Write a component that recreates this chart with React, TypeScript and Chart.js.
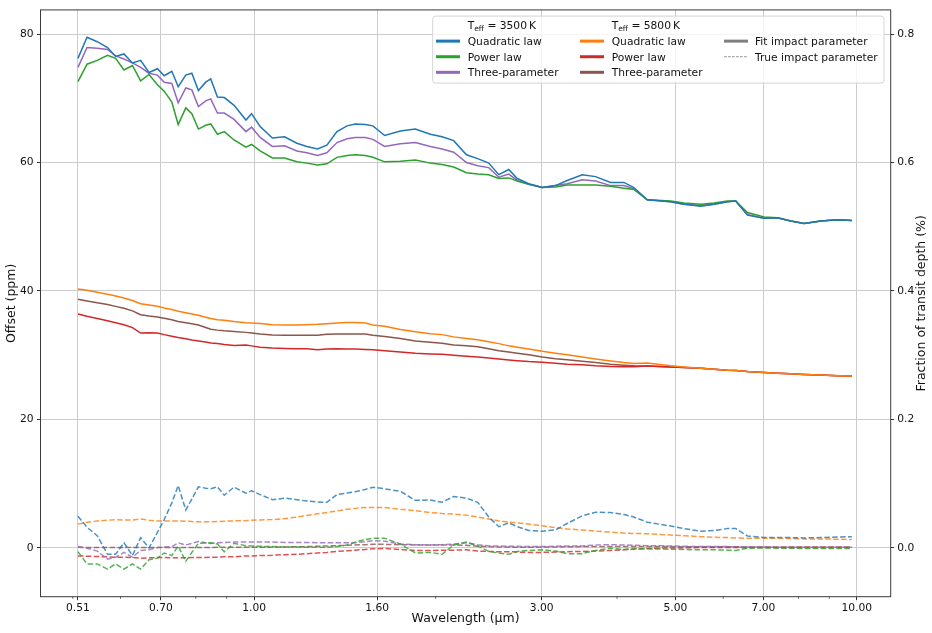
import { useEffect, useRef } from "react"
import { Chart, registerables } from "chart.js"

Chart.register(...registerables)

// wavelength grid in micron
const wavelength = [
  0.510, 0.528, 0.549, 0.571, 0.589, 0.608, 0.628, 0.648, 0.669, 0.691,
  0.709, 0.730, 0.748, 0.770, 0.788, 0.808, 0.831, 0.847, 0.869, 0.892,
  0.926, 0.969, 0.990, 1.023, 1.072, 1.123, 1.177, 1.223, 1.274, 1.320,
  1.372, 1.426, 1.471, 1.529, 1.574, 1.646, 1.748, 1.851, 1.960, 2.050,
  2.143, 2.250, 2.349, 2.450, 2.546, 2.645, 2.732, 2.855, 3.006, 3.162,
  3.306, 3.502, 3.685, 3.903, 4.106, 4.266, 4.490, 4.909, 5.166, 5.507,
  5.794, 6.098, 6.295, 6.583, 7.015, 7.383, 7.770, 8.175, 8.713, 9.288,
  9.810,
]

// Teff = 3500 K, fitted impact parameter (ppm)
const quad3500Fit = [
  76.2, 79.5, 78.8, 77.9, 76.5, 76.9, 75.5, 75.9, 74.0, 74.6,
  73.5, 74.2, 71.8, 73.6, 73.9, 71.2, 72.5, 73.0, 70.2, 70.1,
  68.9, 66.6, 67.6, 65.6, 63.8, 64.0, 63.0, 62.5, 62.1, 62.7,
  64.8, 65.7, 66.0, 65.9, 65.7, 64.2, 64.9, 65.2, 64.4, 64.0,
  63.4, 61.2, 60.6, 59.9, 58.1, 58.9, 57.5, 56.7, 56.1, 56.4,
  57.2, 58.1, 57.8, 56.9, 56.9, 56.1, 54.2, 53.9, 53.5, 53.2,
  53.5, 53.9, 54.0, 51.8, 51.3, 51.4, 50.9, 50.5, 50.9, 51.1,
  50.95,
]
const power3500Fit = [
  72.6, 75.3, 75.9, 76.7, 76.2, 74.4, 75.1, 72.7, 73.7, 72.1,
  71.1, 69.4, 65.9, 68.5, 67.6, 65.2, 65.8, 66.0, 64.4, 64.8,
  63.5, 62.4, 62.8, 61.8, 60.7, 60.7, 60.1, 59.9, 59.6, 59.8,
  60.8, 61.1, 61.2, 61.1, 60.8, 60.1, 60.2, 60.4, 59.9, 59.7,
  59.3, 58.4, 58.2, 58.1, 57.5, 57.6, 57.1, 56.6, 56.1, 56.2,
  56.5, 56.5, 56.5, 56.3, 56.0, 55.8, 54.2, 54.0, 53.7, 53.5,
  53.7, 54.0, 54.0, 52.2, 51.5, 51.4, 50.9, 50.5, 50.9, 51.1,
  50.95,
]
const three3500Fit = [
  74.8, 77.9, 77.8, 77.6, 76.6, 76.1, 75.5, 74.8, 73.9, 73.6,
  72.5, 72.3, 69.3, 71.6, 71.3, 68.7, 69.6, 69.9, 67.7, 67.7,
  66.7, 64.8, 65.5, 63.9, 62.5, 62.6, 61.8, 61.5, 61.1, 61.5,
  63.1, 63.7, 63.9, 63.9, 63.6, 62.5, 62.9, 63.1, 62.5, 62.1,
  61.6, 60.0, 59.5, 59.2, 57.7, 58.2, 57.2, 56.6, 56.1, 56.4,
  56.7, 57.3, 57.1, 56.4, 56.4, 55.9, 54.2, 53.9, 53.5, 53.3,
  53.5, 53.9, 54.0, 51.9, 51.3, 51.4, 50.9, 50.5, 50.9, 51.1,
  50.95,
]

// Teff = 5800 K, fitted impact parameter (ppm)
const quad5800Fit = [
  40.3, 40.1, 39.8, 39.5, 39.2, 38.9, 38.5, 38.0, 37.8, 37.6,
  37.35, 37.1, 36.85, 36.6, 36.4, 36.2, 35.9, 35.7, 35.5, 35.45,
  35.25, 35.05, 35.0, 34.95, 34.75, 34.7, 34.7, 34.75, 34.8, 34.9,
  35.0, 35.1, 35.1, 35.0, 34.7, 34.5, 34.0, 33.65, 33.35, 33.2,
  32.85, 32.6, 32.4, 32.1, 31.8, 31.45, 31.25, 30.95, 30.6, 30.3,
  30.05, 29.7, 29.4, 29.1, 28.85, 28.7, 28.8, 28.35, 28.15, 27.95,
  27.8, 27.65, 27.6, 27.45, 27.3, 27.2, 27.1, 27.0, 26.9, 26.8,
  26.75,
]
const power5800Fit = [
  36.4, 36.05, 35.7, 35.35, 35.05, 34.75, 34.3, 33.45, 33.5, 33.45,
  33.2, 32.95, 32.75, 32.55, 32.35, 32.2, 32.05, 31.9, 31.8, 31.65,
  31.5, 31.6, 31.45, 31.25, 31.1, 31.05, 31.0, 31.0, 30.85, 30.95,
  31.0, 30.95, 30.95, 30.9, 30.85, 30.7, 30.5, 30.3, 30.2, 30.15,
  30.0, 29.85, 29.7, 29.55, 29.4, 29.25, 29.15, 29.0, 28.9, 28.75,
  28.6, 28.5, 28.35, 28.25, 28.2, 28.2, 28.3, 28.15, 28.1, 27.95,
  27.8, 27.65, 27.6, 27.45, 27.3, 27.2, 27.1, 27.0, 26.9, 26.8,
  26.75,
]
const three5800Fit = [
  38.7, 38.45, 38.15, 37.9, 37.6, 37.3, 36.9, 36.3, 36.1, 35.95,
  35.75, 35.5, 35.25, 35.05, 34.9, 34.7, 34.3, 34.05, 33.9, 33.8,
  33.7, 33.55, 33.45, 33.3, 33.15, 33.1, 33.1, 33.1, 33.1, 33.25,
  33.3, 33.3, 33.3, 33.3, 33.1, 32.9, 32.6, 32.2, 32.0, 31.85,
  31.6, 31.45, 31.3, 31.0, 30.7, 30.5, 30.3, 30.05, 29.7, 29.45,
  29.3, 29.05, 28.85, 28.6, 28.45, 28.35, 28.3, 28.15, 28.1, 27.95,
  27.8, 27.65, 27.6, 27.45, 27.3, 27.2, 27.1, 27.0, 26.9, 26.8,
  26.75,
]

// true impact parameter (ppm)
const quad3500True = [
  4.93, 3.2, 1.9, -1.0, -1.0, 0.8, -1.2, 1.6, 0.0, 2.4,
  4.4, 7.0, 9.7, 5.9, 7.6, 9.5, 9.3, 9.2, 9.5, 8.2,
  9.45, 8.5, 8.9, 8.3, 7.5, 7.75, 7.5, 7.3, 7.15, 7.1,
  8.3, 8.55, 8.75, 9.1, 9.45, 9.2, 8.8, 7.4, 7.45, 7.1,
  8.0, 7.75, 7.1, 4.8, 3.3, 3.9, 3.3, 2.7, 2.6, 2.8,
  3.8, 5.0, 5.55, 5.5, 5.2, 4.8, 4.0, 3.4, 3.0, 2.6,
  2.7, 3.0, 3.0, 1.85, 1.6, 1.6, 1.6, 1.55, 1.6, 1.7,
  1.75,
]
const power3500True = [
  -0.6, -2.5, -2.5, -3.3, -2.5, -3.3, -2.5, -3.3, -1.85, -1.6,
  -0.8, -1.2, 0.3, -2.1, -0.7, 0.7, 0.75, 0.8, 0.6, -0.6,
  0.7, 0.35, 0.3, 0.25, 0.2, 0.15, 0.15, 0.1, 0.1, 0.1,
  0.2, 0.45, 0.9, 1.3, 1.5, 1.5, 0.6, -0.8, -0.7, -1.0,
  0.45, 0.9, 0.3, -0.55, -0.8, -1.0, -0.55, -0.4, -0.3, -0.5,
  -0.9, -0.9, -0.4, -0.05, -0.25, -0.1, -0.15, -0.2, -0.25, -0.3,
  -0.3, -0.35, -0.4, -0.05, 0.0, -0.05, -0.05, -0.1, -0.1, -0.1,
  -0.1,
]
const three3500True = [
  0.2, -0.05, -0.5, -1.75, -1.45, -0.7, -1.45, -0.4, -0.3, 0.05,
  0.15, 0.2, 0.8, 0.45, 0.7, 1.0, 0.8, 0.7, 0.8, 0.85,
  0.9, 0.9, 0.9, 0.9, 0.9, 0.85, 0.85, 0.85, 0.8, 0.8,
  0.8, 0.8, 0.8, 0.95, 1.1, 1.05, 0.6, 0.5, 0.45, 0.5,
  0.6, 0.8, 0.5, 0.3, 0.3, 0.25, 0.25, 0.2, 0.2, 0.25,
  0.3, 0.3, 0.45, 0.5, 0.45, 0.4, 0.35, 0.3, 0.25, 0.2,
  0.2, 0.2, 0.15, 0.15, 0.15, 0.1, 0.1, 0.1, 0.1, 0.1,
  0.1,
]
const quad5800True = [
  3.7, 4.0, 4.2, 4.3, 4.4, 4.35, 4.35, 4.5, 4.3, 4.2,
  4.2, 4.2, 4.2, 4.15, 4.1, 4.05, 4.05, 4.05, 4.1, 4.15,
  4.2, 4.25, 4.3, 4.35, 4.4, 4.55, 4.8, 5.05, 5.3, 5.5,
  5.75, 6.0, 6.15, 6.3, 6.3, 6.3, 6.0, 5.8, 5.5, 5.35,
  5.25, 5.1, 4.8, 4.5, 4.2, 4.0, 3.9, 3.7, 3.45, 3.15,
  2.95, 2.8, 2.6, 2.45, 2.3, 2.25, 2.2, 2.0, 1.9, 1.75,
  1.65, 1.6, 1.55, 1.5, 1.5, 1.5, 1.45, 1.4, 1.4, 1.35,
  1.3,
]
const power5800True = [
  -1.25, -1.3, -1.35, -1.4, -1.45, -1.45, -1.5, -1.6, -1.55, -1.5,
  -1.5, -1.55, -1.55, -1.55, -1.5, -1.5, -1.5, -1.45, -1.45, -1.4,
  -1.4, -1.25, -1.25, -1.2, -1.15, -1.05, -1.0, -0.9, -0.8, -0.7,
  -0.55, -0.45, -0.35, -0.25, -0.15, -0.1, -0.25, -0.4, -0.4, -0.35,
  -0.35, -0.3, -0.5, -0.55, -0.6, -0.6, -0.65, -0.7, -0.7, -0.65,
  -0.6, -0.55, -0.5, -0.4, -0.3, -0.2, -0.1, 0.0, 0.0, 0.05,
  0.05, 0.05, 0.05, 0.05, 0.05, 0.05, 0.05, 0.05, 0.05, 0.05,
  0.05,
]
const three5800True = [
  0.1, 0.05, 0.05, 0.05, 0.05, 0.05, 0.05, 0.05, 0.05, 0.05,
  0.05, 0.05, 0.05, 0.05, 0.05, 0.05, 0.05, 0.05, 0.08, 0.1,
  0.1, 0.1, 0.1, 0.1, 0.12, 0.15, 0.18, 0.2, 0.25, 0.3,
  0.35, 0.4, 0.45, 0.5, 0.55, 0.55, 0.5, 0.45, 0.45, 0.45,
  0.45, 0.4, 0.25, 0.2, 0.15, 0.12, 0.1, 0.1, 0.12, 0.15,
  0.18, 0.2, 0.2, 0.2, 0.2, 0.2, 0.2, 0.2, 0.18, 0.18,
  0.18, 0.18, 0.18, 0.12, 0.12, 0.12, 0.12, 0.12, 0.12, 0.12,
  0.12,
]

const xTicks = [0.51, 0.7, 1.0, 1.6, 3.0, 5.0, 7.0, 10.0]
const xMinorTicks = [0.5, 0.6, 0.8, 0.9, 2, 4, 6, 8, 9]
const offsetTicks = [0, 20, 40, 60, 80]
const fractionTicks = [0, 0.2, 0.4, 0.6, 0.8]

const lawNames = ["Quadratic law", "Power law", "Three-parameter"]
const impactNames = ["Fit impact parameter", "True impact parameter"]
const teffValues = ["3500", "5800"]

const FONT = "'DejaVu Sans', sans-serif"
const FS = 10.7
const TITLE_FS = 12.5
const TEXT = "#111111"

const blue = "#1f77b4"
const orange = "#ff7f0e"
const green = "#2ca02c"
const red = "#d62728"
const purple = "#9467bd"
const brown = "#8c564b"
const gray = "#7f7f7f"

const coolColors = [blue, green, purple]
const hotColors = [orange, red, brown]

function withAlpha(hex: string, a: number) {
  const n = parseInt(hex.slice(1), 16)
  return `rgba(${(n >> 16) & 255}, ${(n >> 8) & 255}, ${n & 255}, ${a})`
}

const pts = (ys: number[]) => ys.map((y, i) => ({ x: wavelength[i], y }))

function fitSet(label: string, ys: number[], color: string) {
  return {
    label,
    data: pts(ys),
    borderColor: color,
    borderWidth: 1.5,
    pointRadius: 0,
    fill: false,
    tension: 0,
    yAxisID: "y",
  }
}

function trueSet(label: string, ys: number[], color: string) {
  return {
    label,
    data: pts(ys),
    borderColor: withAlpha(color, 0.8),
    borderWidth: 1.5,
    borderDash: [5.5, 2.4],
    pointRadius: 0,
    fill: false,
    tension: 0,
    yAxisID: "y",
  }
}

function drawTeff(ctx: CanvasRenderingContext2D, x: number, yMid: number, value: string) {
  const base = yMid + 3.9
  ctx.textAlign = "left"
  ctx.textBaseline = "alphabetic"
  ctx.fillStyle = TEXT
  ctx.font = `${FS}px ${FONT}`
  ctx.fillText("T", x, base)
  let cx = x + ctx.measureText("T").width
  ctx.font = `7.5px ${FONT}`
  ctx.fillText("eff", cx, base + 2)
  cx += ctx.measureText("eff").width
  ctx.font = `${FS}px ${FONT}`
  ctx.fillText(` = ${value}\u2009K`, cx, base)
}

const decorPlugin = {
  id: "decor",
  afterDraw(chart: any) {
    const { ctx, chartArea: a, scales } = chart
    ctx.save()

    // minor ticks of the log axis
    ctx.strokeStyle = "#333"
    ctx.lineWidth = 0.8
    for (const v of xMinorTicks) {
      const px = scales.x.getPixelForValue(v)
      ctx.beginPath()
      ctx.moveTo(px, a.bottom)
      ctx.lineTo(px, a.bottom + 2)
      ctx.stroke()
    }

    // axes frame
    ctx.strokeStyle = "#3a3a3a"
    ctx.lineWidth = 1
    ctx.strokeRect(a.left, a.top, a.right - a.left, a.bottom - a.top)

    // right axis title, reading bottom to top
    ctx.save()
    ctx.fillStyle = TEXT
    ctx.font = `${TITLE_FS}px ${FONT}`
    ctx.textAlign = "center"
    ctx.textBaseline = "middle"
    ctx.translate(921.5, (a.top + a.bottom) / 2)
    ctx.rotate(-Math.PI / 2)
    ctx.fillText("Fraction of transit depth (%)", 0, 0)
    ctx.restore()

    // legend box
    const bx = a.right - 458
    const by = a.top + 6.2
    const bw = 451.3
    const bh = 67
    ctx.beginPath()
    if (ctx.roundRect) ctx.roundRect(bx, by, bw, bh, 3)
    else ctx.rect(bx, by, bw, bh)
    ctx.fillStyle = "rgba(255,255,255,0.8)"
    ctx.fill()
    ctx.strokeStyle = "#d4d4d4"
    ctx.lineWidth = 1
    ctx.stroke()

    const rowY = [9.4, 25, 40.6, 56.2].map((d) => by + d)
    const cols = [
      { hx: 3.3, tx: 35 },
      { hx: 147.3, tx: 179 },
      { hx: 291.3, tx: 322.3 },
    ]

    drawTeff(ctx, bx + cols[0].tx, rowY[0], teffValues[0])
    drawTeff(ctx, bx + cols[1].tx, rowY[0], teffValues[1])

    const handle = (c: number, r: number, color: string, width: number, dash: number[]) => {
      ctx.beginPath()
      ctx.setLineDash(dash)
      ctx.strokeStyle = color
      ctx.lineWidth = width
      ctx.moveTo(bx + cols[c].hx, rowY[r])
      ctx.lineTo(bx + cols[c].hx + 24, rowY[r])
      ctx.stroke()
      ctx.setLineDash([])
    }
    const label = (c: number, r: number, text: string) => {
      ctx.fillStyle = TEXT
      ctx.font = `${FS}px ${FONT}`
      ctx.textAlign = "left"
      ctx.textBaseline = "alphabetic"
      ctx.fillText(text, bx + cols[c].tx, rowY[r] + 3.9)
    }

    lawNames.forEach((name, i) => {
      handle(0, i + 1, coolColors[i], 3, [])
      label(0, i + 1, name)
      handle(1, i + 1, hotColors[i], 3, [])
      label(1, i + 1, name)
    })
    handle(2, 1, gray, 3, [])
    label(2, 1, impactNames[0])
    handle(2, 2, gray, 0.8, [2.8, 1.2])
    label(2, 2, impactNames[1])

    ctx.restore()
  },
}

export default function App() {
  const chartRef = useRef<HTMLCanvasElement>(null)
  const chartInstance = useRef<Chart | null>(null)

  useEffect(() => {
    if (!chartRef.current) return
    if (chartInstance.current) chartInstance.current.destroy()

    const ctx = chartRef.current.getContext("2d")
    if (!ctx) return

    Chart.defaults.font.family = FONT
    Chart.defaults.font.size = FS
    Chart.defaults.color = TEXT

    const tickFont = { family: FONT, size: FS }
    const titleFont = { family: FONT, size: TITLE_FS }

    chartInstance.current = new Chart(ctx, {
      type: "line",
      data: {
        datasets: [
          fitSet("Quadratic law 3500 K", quad3500Fit, blue),
          fitSet("Power law 3500 K", power3500Fit, green),
          fitSet("Three-parameter 3500 K", three3500Fit, purple),
          fitSet("Quadratic law 5800 K", quad5800Fit, orange),
          fitSet("Power law 5800 K", power5800Fit, red),
          fitSet("Three-parameter 5800 K", three5800Fit, brown),
          trueSet("Quadratic law 3500 K (true b)", quad3500True, blue),
          trueSet("Power law 3500 K (true b)", power3500True, green),
          trueSet("Three-parameter 3500 K (true b)", three3500True, purple),
          trueSet("Quadratic law 5800 K (true b)", quad5800True, orange),
          trueSet("Power law 5800 K (true b)", power5800True, red),
          trueSet("Three-parameter 5800 K (true b)", three5800True, brown),
        ] as any,
      },
      options: {
        responsive: true,
        maintainAspectRatio: false,
        animation: false,
        events: [],
        layout: { padding: { top: 4.5, left: 0, right: 0, bottom: 0 } },
        plugins: {
          legend: { display: false },
          tooltip: { enabled: false },
        },
        scales: {
          x: {
            type: "logarithmic",
            min: 0.442,
            max: 11.38,
            afterBuildTicks: (s: any) => {
              s.ticks = xTicks.map((v) => ({ value: v }))
            },
            afterFit: (s: any) => {
              s.height = 36.3
            },
            ticks: {
              autoSkip: false,
              maxRotation: 0,
              padding: 2,
              color: TEXT,
              font: tickFont,
              callback: (v: any) => Number(v).toFixed(2),
            },
            grid: {
              color: "#cccccc",
              lineWidth: 1,
              tickLength: 3.5,
              tickColor: "#333",
              tickWidth: 1,
            },
            border: { display: false },
            title: {
              display: true,
              text: "Wavelength (μm)",
              color: TEXT,
              font: titleFont,
              padding: { top: 0, bottom: 6.5 },
            },
          },
          y: {
            type: "linear",
            position: "left",
            min: -7.6,
            max: 83.75,
            afterBuildTicks: (s: any) => {
              s.ticks = offsetTicks.map((v) => ({ value: v }))
            },
            afterFit: (s: any) => {
              s.width = 40.5
            },
            ticks: {
              padding: 3.5,
              color: TEXT,
              font: tickFont,
              callback: (v: any) => String(v),
            },
            grid: {
              color: "#cccccc",
              lineWidth: 1,
              tickLength: 3.5,
              tickColor: "#333",
              tickWidth: 1,
            },
            border: { display: false },
            title: {
              display: true,
              text: "Offset (ppm)",
              color: TEXT,
              font: titleFont,
              padding: { top: 4.5, bottom: 0 },
            },
          },
          y1: {
            type: "linear",
            position: "right",
            min: -0.076,
            max: 0.8375,
            afterBuildTicks: (s: any) => {
              s.ticks = fractionTicks.map((v) => ({ value: v }))
            },
            afterFit: (s: any) => {
              s.width = 41.3
            },
            ticks: {
              padding: 3,
              color: TEXT,
              font: tickFont,
              callback: (v: any) => Number(v).toFixed(1),
            },
            grid: {
              drawOnChartArea: false,
              tickLength: 3.5,
              tickColor: "#333",
              tickWidth: 1,
            },
            border: { display: false },
          },
        },
      } as any,
      plugins: [decorPlugin],
    })

    return () => {
      if (chartInstance.current) {
        chartInstance.current.destroy()
        chartInstance.current = null
      }
    }
  }, [])

  return (
    <div style={{ position: "absolute", left: 0, top: 0, width: 932, height: 633, background: "#fff" }}>
      <canvas ref={chartRef} />
    </div>
  )
}
